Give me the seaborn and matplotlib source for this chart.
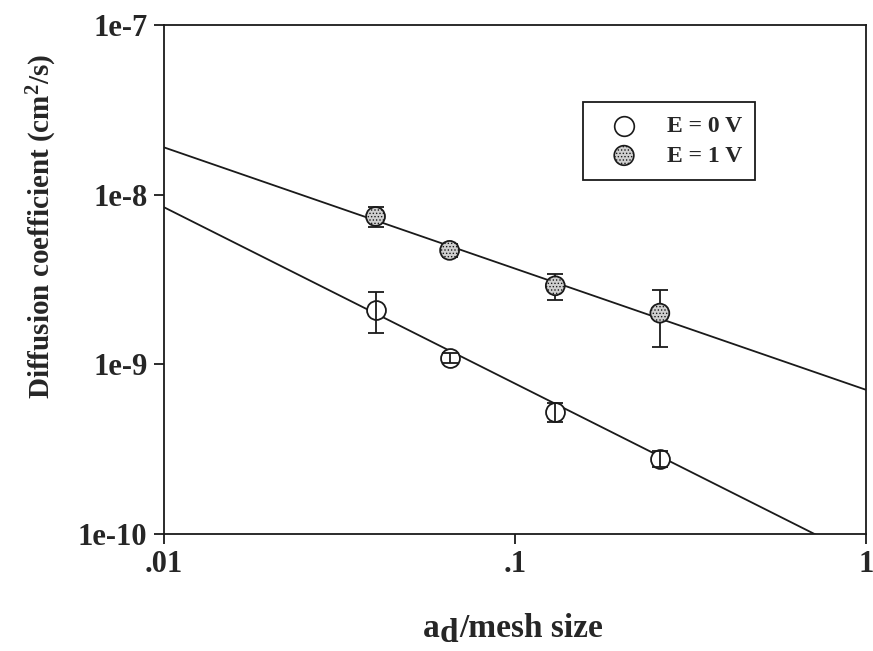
import numpy as np
import pandas as pd
import matplotlib
matplotlib.use("Agg")
import matplotlib.pyplot as plt
from matplotlib.ticker import FixedLocator, NullLocator
import seaborn as sns

# Normalised mesh size (a_d / mesh size)
mesh_ratio = [0.040, 0.065, 0.130, 0.258]

# Diffusion coefficients (cm^2/s) and their error bars
d_e0 = [2.10e-9, 1.09e-9, 5.24e-10, 2.77e-10]
d_e0_err = [0.58e-9, 0.08e-9, 0.65e-10, 0.30e-10]
d_e1 = [7.43e-9, 4.69e-9, 2.90e-9, 2.00e-9]
d_e1_err = [0.97e-9, 0.40e-9, 0.50e-9, 0.73e-9]

series_labels = ["E = 0 V", "E = 1 V"]

# Power-law fits D = D0 * x^n, with D0 the value at x = 1
fit_exponent = [-1.04, -0.715]
fit_prefactor = [7.0e-11, 7.05e-10]

x_ticks = [0.01, 0.1, 1]
x_tick_labels = [".01", ".1", "1"]
y_ticks = [1e-10, 1e-9, 1e-8, 1e-7]
y_tick_labels = ["1e-10", "1e-9", "1e-8", "1e-7"]

sns.set_style("ticks")
plt.rcParams["font.family"] = ["Liberation Serif", "DejaVu Serif"]
plt.rcParams["font.weight"] = "bold"
plt.rcParams["mathtext.fontset"] = "custom"
plt.rcParams["mathtext.rm"] = "Liberation Serif:bold"
plt.rcParams["mathtext.bf"] = "Liberation Serif:bold"
plt.rcParams["mathtext.it"] = "Liberation Serif:bold"
plt.rcParams["hatch.color"] = "#4a4a4a"
plt.rcParams["hatch.linewidth"] = 0.6

INK = "#1a1a1a"

fig = plt.figure(figsize=(8.73, 6.51), dpi=100)
ax = fig.add_axes([0.188, 0.180, 0.8045, 0.7816])

df = pd.DataFrame({
    "ratio": mesh_ratio * 2,
    "D": d_e0 + d_e1,
    "err": d_e0_err + d_e1_err,
    "field": [series_labels[0]] * 4 + [series_labels[1]] * 4,
})

# fitted lines
x_fit = np.logspace(-2, 0, 200)
for n, d0 in zip(fit_exponent, fit_prefactor):
    sns.lineplot(x=x_fit, y=d0 * x_fit ** n, color=INK, lw=1.3, ax=ax,
                 zorder=2)

# markers: open circles for 0 V, stippled circles for 1 V
face = {series_labels[0]: "white", series_labels[1]: "#cfcfcf"}
hatch = {series_labels[0]: None, series_labels[1]: "....."}
bar_z = {series_labels[0]: 5, series_labels[1]: 3}
for lab in series_labels:
    sub = df[df["field"] == lab]
    ax.errorbar(sub["ratio"], sub["D"], yerr=sub["err"], fmt="none",
                ecolor=INK, elinewidth=1.3, capsize=5.5, capthick=1.3,
                zorder=bar_z[lab])
    sns.scatterplot(x=sub["ratio"], y=sub["D"], ax=ax, s=185, marker="o",
                    facecolor=face[lab], edgecolor=INK, linewidth=1.3,
                    hatch=hatch[lab], zorder=4, legend=False)

ax.set_xscale("log")
ax.set_yscale("log")
ax.set_xlim(0.01, 1)
ax.set_ylim(1e-10, 1e-7)
ax.xaxis.set_major_locator(FixedLocator(x_ticks))
ax.xaxis.set_minor_locator(NullLocator())
ax.set_xticklabels(x_tick_labels)
ax.yaxis.set_major_locator(FixedLocator(y_ticks))
ax.yaxis.set_minor_locator(NullLocator())
ax.set_yticklabels(y_tick_labels)
ax.tick_params(axis="both", direction="out", length=7, width=1.3,
               labelsize=22, pad=5, color=INK)
for s in ax.spines.values():
    s.set_visible(True)
    s.set_linewidth(1.3)
    s.set_color(INK)

ax.set_xlabel("")
ax.set_ylabel(r"Diffusion coefficient (cm$^{\mathrm{2}}$/s)", fontsize=21,
              fontweight="bold")
ax.yaxis.set_label_coords(-0.150, 0.605)

# x-axis title: "a" with a full-size lowered "d", then "/mesh size"
xl_a = fig.text(0.484, 0.022, "a", fontsize=24, fontweight="bold",
                ha="left", va="baseline")
xl_d = ax.annotate("d", xy=(1, 0), xycoords=xl_a, xytext=(0.5, -4),
                   textcoords="offset points", fontsize=24,
                   fontweight="bold", ha="left", va="bottom",
                   annotation_clip=False)
ax.annotate("/mesh size", xy=(1, 0), xycoords=xl_d, xytext=(0.5, 4),
            textcoords="offset points", fontsize=24, fontweight="bold",
            ha="left", va="bottom", annotation_clip=False)

# legend handles share the marker styling of the data
handles = [
    ax.scatter([], [], s=200, marker="o", facecolor=face[lab],
               edgecolor=INK, linewidth=1.2, hatch=hatch[lab])
    for lab in series_labels
]
leg = ax.legend(handles, series_labels, loc="upper left",
                bbox_to_anchor=(0.596, 0.848), frameon=True, fancybox=False,
                framealpha=1, edgecolor=INK, fontsize=17,
                borderpad=0.55, handletextpad=0.6, labelspacing=0.35,
                borderaxespad=0, handlelength=2.4, scatterpoints=1)
leg.get_frame().set_linewidth(1.3)
for t in leg.get_texts():
    t.set_fontweight("bold")

fig.savefig("out.png", dpi=100)
